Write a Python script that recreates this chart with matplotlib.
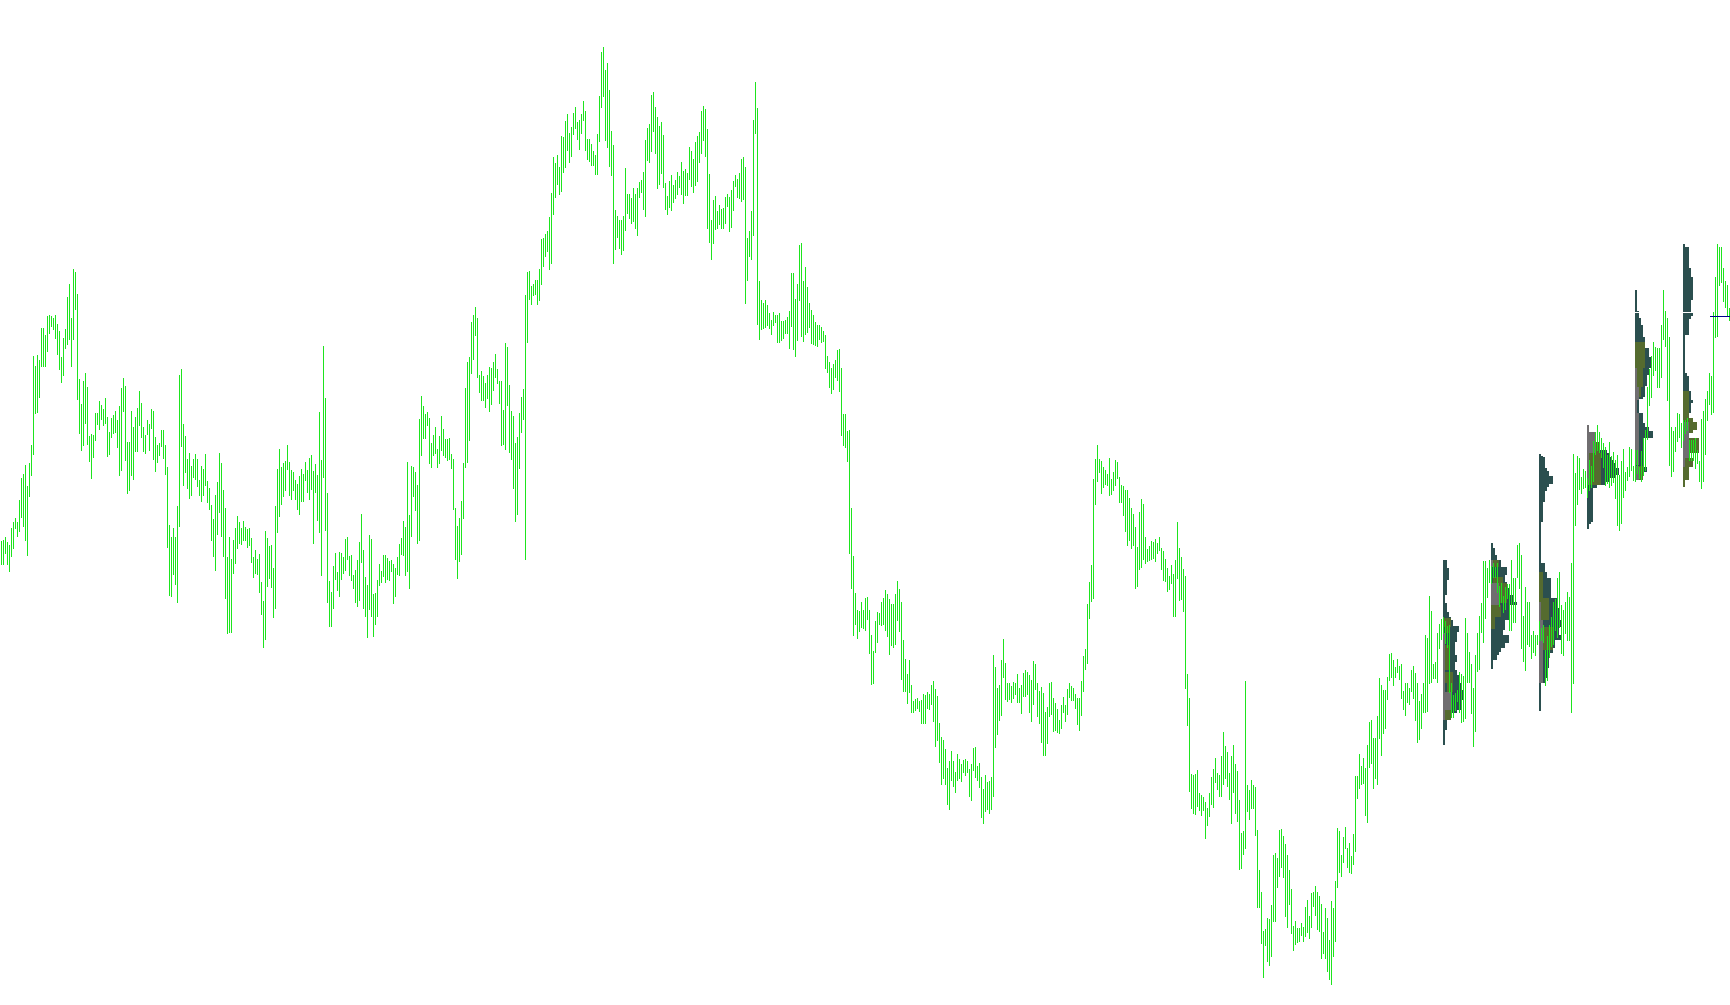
import numpy as np
import matplotlib
matplotlib.use("Agg")
import matplotlib.pyplot as plt

# no axis on the chart, so prices are read in screen rows off six crops (3x zoom)
# each block: row where the crop starts, then the top and bottom of every bar
a_start = 250
a_hi = [873,870,861,876,885,834,816,804,816,750,684,672,645,708,639,585,318,348,315,330,234,234,255,198,195,198,204,195,222,243,
        321,264,237,141,102,204,57,66,132,387,462,393,369,411,558,552,555,489,489,453,465,477,444,501,546,504,495,483,510,468,
        414,384,408,576,576,483,531,501,474,423,459,531,555,510,522,477,483,561,585,579,540,540,585,651,825,861,834,861,768,375,
        357,522,558,627,609,648,627,612,627,690,648,657,612,693,714,765,807,735,696,609,639,720,774,921,861,927,870,834,798,816,
        834,813,831,837,834,864,921,900,927,912,996,1052,843,864,888,885,954,768,657,597,651,639,633,585,636,660,666,690,702,678]
a_lo = [941,941,908,941,962,918,893,834,857,842,800,827,869,914,737,674,611,488,485,440,347,347,347,302,249,228,237,264,311,356,
        395,374,293,281,266,347,266,176,446,548,599,584,518,581,632,683,620,569,521,536,506,524,518,617,611,560,548,545,590,674,
        659,482,629,728,719,674,686,602,602,524,560,602,608,551,599,533,626,662,635,614,587,623,671,890,1034,1037,971,1001,1055,827,
        587,704,665,713,743,734,682,686,707,734,752,734,704,755,776,869,917,959,851,785,857,917,1043,1148,1145,1145,968,938,893,878,
        881,869,869,890,884,935,980,968,971,1025,1091,1190,1166,1007,983,1010,1100,1073,845,797,761,737,719,656,734,746,719,746,776,791]

b_start = 330
b_hi = [417,432,396,420,384,375,423,402,435,246,390,48,204,489,753,786,708,669,726,666,669,681,627,621,678,675,735,720,690,636,
        552,660,741,765,615,627,792,789,750,702,723,675,675,684,693,690,702,714,681,642,624,573,591,396,555,408,411,426,465,267,
        198,228,252,246,264,339,315,291,357,318,258,297,327,327,324,372,387,534,588,564,513,399,174,96,81,-24,-45,-69,-36,135]
b_lo = [513,513,450,486,507,477,638,486,570,605,734,441,599,815,887,887,833,746,779,797,746,728,719,686,734,749,773,815,827,809,
        695,833,857,920,836,857,917,881,857,764,755,737,755,746,749,722,818,797,731,734,671,674,734,722,773,617,497,539,638,629,
        374,323,323,284,398,410,374,368,410,398,359,374,380,389,386,413,536,686,743,692,671,563,410,395,329,128,86,14,140,185]

c_start = 40
c_hi = [993,1008,1029,1005,981,984,966,941,987,1023,1023,1109,908,920,1035,1112,1127,1209,1191,1120,1071,1047,766,695,692,738,732,720,720,686,
        597,594,582,573,530,459,351,370,346,381,287,290,243,222,278,260,219,201,246,240,222,183,213,296,296,311,332,346,281,168,
        36,21,89,68,151,272,314,509,527,541,541,527,385,463,461,475,444,461,444,426,420,396,299,263,251,166,157,201,232,257]
c_lo = [1079,1079,1100,1073,1112,1091,1049,1012,1028,1088,1215,1212,1227,1094,1236,1257,1345,1443,1422,1284,1175,1136,1557,907,778,793,766,763,793,781,
        731,677,647,632,686,668,523,470,432,462,453,395,382,331,367,349,281,263,296,328,278,240,331,358,364,376,376,402,402,302,
        201,168,299,322,379,405,669,627,592,623,642,630,571,518,535,550,544,565,586,470,456,506,527,361,367,334,272,340,444,432]

d_start = 75
d_hi = [141,180,324,363,318,300,330,315,291,303,261,288,282,294,216,228,252,201,183,171,108,93,102,162,297,435,375,363,408,390,
        402,399,366,357,366,345,318,300,312,294,252,246,276,489,468,408,135,21,99,618,675,684,675,690,714,735,711,720,720,714,
        738,738,735,726,708,594,594,672,627,510,504,618,576,636,684,705,720,741,750,750,756,768,780,843,861,879,867,855,825,822]
d_lo = [293,335,401,416,395,404,380,368,356,335,356,383,359,359,311,332,350,329,317,260,233,194,242,458,500,551,503,461,458,446,
        458,458,443,392,467,455,404,332,365,368,377,371,683,614,542,551,479,173,746,791,761,758,755,749,758,776,749,740,800,800,
        794,788,773,773,818,752,821,842,794,674,782,797,776,770,755,803,806,809,812,791,800,797,878,890,935,953,941,905,914,947]

e_start = 350
e_hi = [54,192,192,243,240,474,618,729,780,783,756,780,744,741,780,855,903,813,786,789,756,744,720,732,747,762,762,732,693,717,
        756,870,927,972,930,1005,1053,1047,1044,1053,1050,1032,1035,1026,1032,1005,993,1017,1038,1119,1161,1170,1197,1254,1233,1203,1233,1266,1212,1227,
        1242,1230,1227,1233,1257,1242,1194,1191,1248,1239,1281,1317,1275,1296,1293,1281,915,951,1014,1005,930,867,939,999,999,1008,996,999,972,1014]
e_lo = [254,284,290,332,608,713,854,821,863,842,830,833,839,806,908,1001,998,905,875,821,824,821,839,857,911,884,890,881,809,842,
        986,1022,1022,1058,1025,1085,1085,1079,1073,1082,1118,1118,1118,1073,1076,1061,1112,1187,1169,1235,1301,1283,1301,1361,1376,1289,1307,1325,1289,1283,
        1292,1265,1274,1265,1337,1349,1259,1280,1289,1310,1400,1418,1382,1376,1388,1376,1337,1190,1151,1109,1094,980,1046,1052,1046,1055,1043,1031,1055,1055]

f_start = 440
f_hi = [735,699,690,696,705,720,663,672,729,753,741,759,816,801,729,726,774,789,807,840,795,771,795,747,729,738,744,762,774,774,
        723,648,627,492,426,375,117,57,15,57,63,81,90,102,54,117,96,60,66,111,135,138,150,150,174,204,222,261,321,216,
        177,192,291,327,318,303,306,297,309,291,324,333,357,384,408,375,402,360,246,324,351,387,408,702,774,1002,1005,1002,990,1059]
f_lo = [818,767,767,761,815,842,791,746,827,848,905,944,944,908,827,821,872,869,875,878,863,815,842,821,770,779,779,803,851,869,
        824,752,686,668,533,482,473,191,122,95,158,140,131,134,164,161,149,134,113,185,185,224,272,314,299,323,314,443,437,386,
        380,356,368,362,359,356,353,362,338,329,386,419,422,452,446,428,527,527,413,479,476,512,743,854,1052,1103,1118,1121,1097,1109]

g_start = 640
g_hi = [465,471,486,504,459,411,387,354,399,405,348,276,318,336,399,348,315,372,393,480,579,573,123,435,450,420,435,441,570,690,
        756,873,867,834,837,795,645,639,654,570,567,588,612,645,690,747,858,843,864,864,849,861,801,780,828,759,756,738,756,768,
        792,876,804,834,900,783,804,723,564,573,645,591,561,624,609,648,582,408,408,342,378,354,384,315,246,240,294,294,228,114,
        135,150,150,111,42,39,60,81,57,78]
g_lo = [524,509,593,554,527,491,500,425,446,467,467,431,413,437,476,548,455,518,542,686,683,641,623,512,536,503,503,584,800,800,
        908,1010,914,962,974,947,842,842,740,707,680,710,827,860,791,878,929,911,905,902,884,902,887,875,893,860,797,824,866,872,
        953,938,953,992,1016,1031,947,902,740,695,707,665,623,680,695,698,671,632,473,443,431,428,524,545,380,368,443,413,431,293,
        344,278,263,176,119,110,134,110,95,116]

h_start = 520
h_hi = [432,513,489,489,504,450,438,459,489,543,522,489,345,354,228,273,432,426,339,312,297,291,303,318,315,490,525,520,510,456,
        462,468,294,339,396,432,504,405,339,288,249,123,123,144,120,138,130,140,130,198,190,228,200,192,192,120,174,174,75,69,
        105,288,201,246,246,345,333,345,345,303,323,315,390,348,315,291,246,237,174,156,255,270,246,216,230,129]
h_lo = [533,566,584,545,551,512,533,599,665,656,623,575,575,572,488,485,473,473,485,384,356,338,368,380,515,590,592,570,542,575,
        605,602,593,485,486,578,677,632,453,447,336,365,293,230,187,190,170,170,215,257,245,275,268,235,330,330,305,305,170,204,
        383,422,449,372,377,414,396,405,372,361,360,365,495,480,410,378,372,330,350,320,399,405,340,360,360,575]

i_start = 220
i_hi = [702,759,708,714,771,747,753,774,720,738,663,636,615,636,654,669,681,705,666,708,696,720,705,765,723,687,755,740,681,687,
        738,690,690,740,694,654,630,501,447,408,366,380,384,384,315,210,273,294,351,621,633,621,579,582,610,600,600,594,660,660,
        660,654,690,723,597,573,537,513,459,468,276,171,72,81,81,144,183,195,264]
i_lo = [1389,915,852,807,818,803,800,830,810,800,782,702,690,696,712,740,795,790,800,795,785,833,915,930,909,830,810,780,768,750,
        780,783,760,775,783,765,750,657,555,530,465,450,502,502,470,357,378,540,735,768,753,693,663,650,680,660,640,630,720,720,
        720,745,730,783,804,783,702,600,552,582,576,351,348,195,187,243,261,287,300]

# blue marker line
blue_price_row = 316
blue_first_bar = 855

# market profile blocks, rows in crop units (same zoom as above), widths in bars
# dark = (top, bottom, width), gray / olive = (top, bottom, offset, width)
p1_bar, p1_start = 721, 520
p1_dark = [(120,144,2),(144,180,3),(180,225,2),(225,250,1),(250,275,2),(275,290,3),(290,300,4),(300,318,5),(318,335,8),(335,365,7),
           (365,405,6),(405,425,7),(425,450,6),(450,465,7),(465,490,8),(490,510,9),(510,540,10),(540,570,9),(570,580,7),(580,590,4),
           (590,630,2),(630,675,1)]
p1_gray = [(340,515,0,1),(515,570,0,4),(570,600,0,1)]
p1_olive = [(295,320,0,4),(320,340,1,2),(375,450,1,2),(455,490,1,4),(490,515,2,3),(570,600,1,3)]

p2_bar, p2_start = 745, 520
p2_dark = [(69,85,1),(85,105,2),(105,120,3),(120,140,5),(140,165,8),(165,185,7),(185,205,8),(205,225,9),(225,245,11),(245,255,13),
           (255,300,9),(300,330,7),(330,345,6),(345,370,9),(370,385,7),(385,395,5),(395,405,4),(405,420,3),(420,447,1)]
p2_gray = [(120,140,0,1),(190,275,0,4)]
p2_olive = [(120,140,1,3),(170,190,1,5),(190,250,4,4),(255,290,0,5),(290,327,0,2)]

p3_bar, p3_start = 769, 520
p3_dark = [(-198,-193,1),(-193,-189,2),(-189,-156,3),(-156,-147,4),(-147,-133,5),(-133,-108,7),(-108,-98,5),(-98,-88,4),(-88,-54,3),(-54,7,2),
           (7,130,1),(130,155,3),(155,175,4),(175,235,6),(235,265,9),(265,300,10),(300,320,11),(320,345,10),(345,360,11),(360,385,8),
           (385,400,7),(400,445,5),(445,475,4),(475,490,3),(490,572,1)]
p3_gray = [(245,300,0,1),(300,490,0,2)]
p3_olive = [(155,245,0,2),(235,300,1,4),(320,390,2,5)]

p4_bar, p4_start = 793, 220
p4_dark = [(690,700,10),(700,710,11),(710,720,12),(720,730,13),(730,745,14),(745,765,16),(765,775,14),(775,785,11),(785,795,9),(795,805,5),
           (805,905,3),(905,912,2),(912,927,1)]
p4_gray = [(615,635,0,1),(635,700,0,4),(700,795,0,1)]
p4_olive = [(665,700,4,2),(700,795,1,6)]

p5_bar, p5_start = 817, 220
p5_dark = [(210,272,1),(272,276,2),(279,295,2),(295,315,3),(315,350,4),(350,385,5),(385,410,7),(410,445,8),(445,465,7),(465,497,6),
           (497,530,5),(530,538,4),(538,580,2),(580,610,4),(610,622,5),(622,632,7),(632,655,9),(655,740,4),(740,755,6),(755,780,3)]
p5_gray = [(445,540,0,2),(540,580,0,1),(580,735,0,2),(738,780,0,2)]
p5_olive = [(365,445,0,5),(445,500,1,3),(500,530,2,1),(738,780,2,2)]

p6_bar, p6_start = 841, 220
p6_dark = [(72,81,1),(81,144,3),(144,170,4),(170,240,5),(240,276,4),(279,288,5),(288,297,4),(297,345,3),(345,459,1),(459,468,2),
           (468,513,3),(513,540,4),(540,550,5),(550,580,4)]
p6_gray = [(595,740,0,3)]
p6_olive = [(513,595,0,3),(595,605,0,5),(605,630,3,4),(630,640,3,2),(655,700,3,5),(715,740,1,4),(740,780,0,3),(780,800,0,1)]

green = '#1ee41e'
dark = '#2b4f4f'
gray = '#706e70'
olive = '#556b2f'
navy = '#00008b'

H = 1005


def price(start, zoomed):
    # screen row in the crop -> price with the chart bottom as 0
    return H - (start + np.array(zoomed) / 3)


blocks = [(a_start, a_hi, a_lo), (b_start, b_hi, b_lo), (c_start, c_hi, c_lo), (d_start, d_hi, d_lo),
          (e_start, e_hi, e_lo), (f_start, f_hi, f_lo), (g_start, g_hi, g_lo), (h_start, h_hi, h_lo),
          (i_start, i_hi, i_lo)]
highs = np.concatenate([price(s, hi) for s, hi, lo in blocks])
lows = np.concatenate([price(s, lo) for s, hi, lo in blocks])

fig = plt.figure(figsize=(17.3, 10.05), dpi=100)
ax = fig.add_axes([0, 0, 1, 1])
# one bar every 2 pixels, landing on the odd pixel columns
ax.set_xlim(-0.625, 864.375)
ax.set_ylim(0, H)
ax.axis('off')

profiles = [(p1_bar, p1_start, p1_dark, p1_gray, p1_olive), (p2_bar, p2_start, p2_dark, p2_gray, p2_olive),
            (p3_bar, p3_start, p3_dark, p3_gray, p3_olive), (p4_bar, p4_start, p4_dark, p4_gray, p4_olive),
            (p5_bar, p5_start, p5_dark, p5_gray, p5_olive), (p6_bar, p6_start, p6_dark, p6_gray, p6_olive)]
for bar, start, d, g, o in profiles:
    left = bar - 0.125
    for top, bottom, w in d:
        ax.barh(price(start, bottom), w, height=(bottom - top) / 3, left=left, align='edge', color=dark, linewidth=0, zorder=1)
    for top, bottom, off, w in g:
        ax.barh(price(start, bottom), w, height=(bottom - top) / 3, left=left + off, align='edge', color=gray, linewidth=0, zorder=2)
    for top, bottom, off, w in o:
        ax.barh(price(start, bottom), w, height=(bottom - top) / 3, left=left + off, align='edge', color=olive, linewidth=0, zorder=3)

bars = np.arange(len(highs))
ax.vlines(bars, lows, highs, colors=green, linewidth=0.72, antialiased=False, zorder=4)
ax.hlines(H - blue_price_row, blue_first_bar - 0.5, 864.375, colors=navy, linewidth=0.72, antialiased=False, zorder=5)

fig.savefig('out.png', dpi=100, facecolor='white')
